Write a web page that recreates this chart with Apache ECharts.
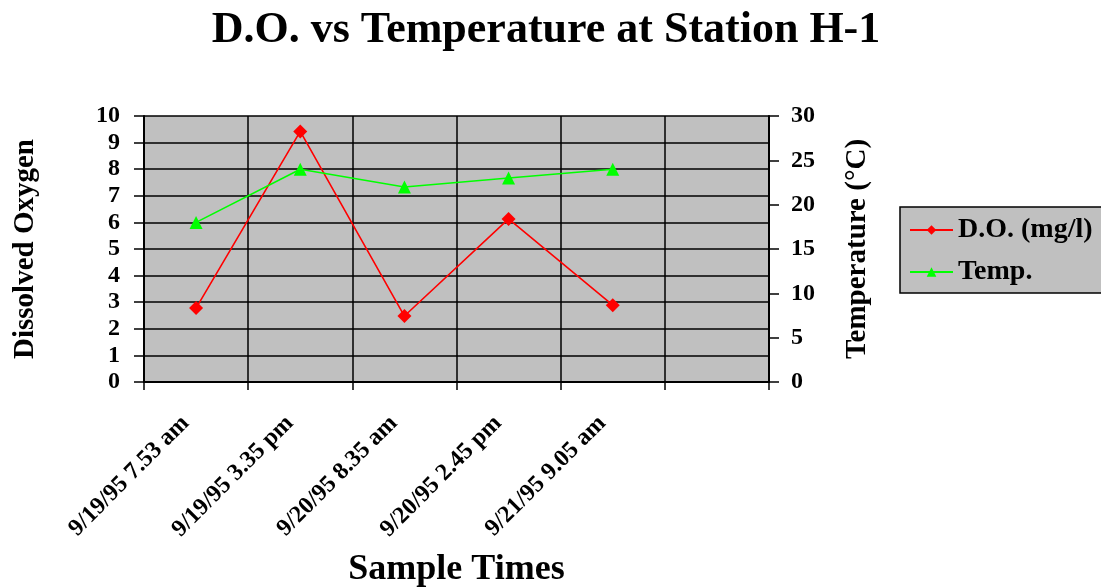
<!DOCTYPE html>
<html>
<head>
<meta charset="utf-8">
<script src="https://cdn.jsdelivr.net/npm/echarts@6/dist/echarts.min.js"></script>
<style>
html,body{margin:0;padding:0;background:#fff;}
#chart{width:1101px;height:588px;}
</style>
</head>
<body>
<div id="chart"></div>
<script>
const categories = ['9/19/95 7.53 am', '9/19/95 3.35 pm', '9/20/95 8.35 am', '9/20/95 2.45 pm', '9/21/95 9.05 am', ''];
const doValues = [2.78, 9.42, 2.48, 6.13, 2.89];
const tempValues = [18, 24, 22, 23, 24];
const seriesNames = ['D.O. (mg/l)', 'Temp.'];

const FONT = '"Liberation Serif", "Times New Roman", serif';
const chart = echarts.init(document.getElementById('chart'), null, {renderer: 'canvas'});

chart.setOption({
  backgroundColor: '#ffffff',
  animation: false,
  title: {
    text: 'D.O. vs Temperature at Station H-1',
    left: 541,
    top: 4,
    textAlign: 'center',
    textStyle: {fontFamily: FONT, fontWeight: 'bold', fontSize: 44, color: '#000'}
  },
  legend: {
    orient: 'vertical',
    left: 900,
    top: 207,
    padding: [9, 40, 7, 9],
    itemGap: 14,
    itemWidth: 43,
    itemHeight: 12,
    backgroundColor: '#c0c0c0',
    borderColor: '#000',
    borderWidth: 1.5,
    borderRadius: 0,
    textStyle: {fontFamily: FONT, fontWeight: 'bold', fontSize: 28, color: '#000'},
    data: seriesNames
  },
  grid: {
    left: 144, right: 332, top: 116, bottom: 206,
    containLabel: false,
    outerBoundsMode: 'none',
    show: true, backgroundColor: '#c0c0c0', borderWidth: 0
  },
  xAxis: {
    type: 'category',
    data: categories,
    boundaryGap: true,
    name: 'Sample Times',
    nameLocation: 'middle',
    nameGap: 170,
    nameTextStyle: {fontFamily: FONT, fontWeight: 'bold', fontSize: 36, color: '#000'},
    axisLine: {show: true, lineStyle: {color: '#000', width: 2}},
    axisTick: {show: true, interval: 0, length: 8, lineStyle: {color: '#000', width: 1.5}},
    axisLabel: {interval: 0, rotate: 45, margin: 27, padding: [0, 15, 0, 0], fontFamily: FONT, fontWeight: 'bold', fontSize: 24, color: '#000'},
    splitLine: {show: true, interval: 0, lineStyle: {color: '#000', width: 1.5}}
  },
  yAxis: [
    {
      type: 'value', min: 0, max: 10, interval: 1,
      name: 'Dissolved Oxygen',
      nameLocation: 'middle',
      nameGap: 104,
      nameTextStyle: {fontFamily: FONT, fontWeight: 'bold', fontSize: 29, color: '#000'},
      axisLine: {show: true, lineStyle: {color: '#000', width: 2}},
      axisTick: {show: true, length: 10, lineStyle: {color: '#000', width: 1.5}},
      axisLabel: {margin: 24, fontFamily: FONT, fontWeight: 'bold', fontSize: 24, color: '#000'},
      splitLine: {show: true, lineStyle: {color: '#000', width: 1.5}}
    },
    {
      type: 'value', min: 0, max: 30, interval: 5,
      name: 'Temperature (°C)',
      nameLocation: 'middle',
      nameGap: 74,
      nameTextStyle: {fontFamily: FONT, fontWeight: 'bold', fontSize: 29, color: '#000'},
      axisLine: {show: true, lineStyle: {color: '#000', width: 2}},
      axisTick: {show: true, length: 10, lineStyle: {color: '#000', width: 1.5}},
      axisLabel: {margin: 22, fontFamily: FONT, fontWeight: 'bold', fontSize: 24, color: '#000'},
      splitLine: {show: false}
    }
  ],
  series: [
    {
      name: seriesNames[0], type: 'line', yAxisIndex: 0,
      data: doValues,
      symbol: 'diamond', symbolSize: 14,
      itemStyle: {color: '#ff0000'},
      lineStyle: {color: '#ff0000', width: 1.6}
    },
    {
      name: seriesNames[1], type: 'line', yAxisIndex: 1,
      data: tempValues,
      symbol: 'triangle', symbolSize: 13,
      itemStyle: {color: '#00ff00'},
      lineStyle: {color: '#00ff00', width: 1.6}
    }
  ]
});
</script>
</body>
</html>
